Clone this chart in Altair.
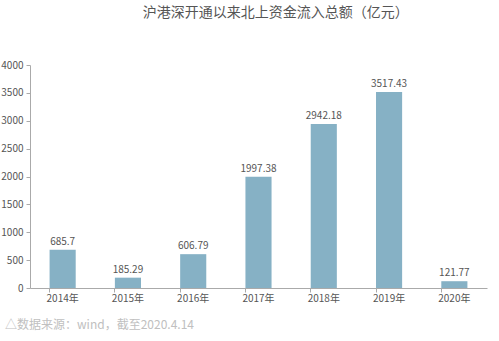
import altair as alt
import pandas as pd

years = ["2014年", "2015年", "2016年", "2017年", "2018年", "2019年", "2020年"]
values = [685.7, 185.29, 606.79, 1997.38, 2942.18, 3517.43, 121.77]
labels = ["685.7", "185.29", "606.79", "1997.38", "2942.18", "3517.43", "121.77"]
y_ticks = [0, 500, 1000, 1500, 2000, 2500, 3000, 3500, 4000]

df = pd.DataFrame({"year": years, "value": values, "label": labels})

FONT = "Noto Sans CJK SC"
GRAY = "#555555"
AX = "#aaaaaa"

xscale = alt.Scale(domain=years, paddingInner=0.6, paddingOuter=0.3)
yscale = alt.Scale(domain=[0, 4000], nice=False)
yaxis = alt.Axis(values=y_ticks, format="d", grid=False, domainColor=AX,
                 tickColor=AX, tickSize=4, labelColor=GRAY, labelFontSize=10,
                 labelFont=FONT, labelPadding=3)

base = alt.Chart(df)

bars = base.mark_bar(color="#86b1c5").encode(
    x=alt.X("year:N", scale=xscale, sort=years, title=None,
            axis=alt.Axis(orient="bottom", labelAngle=0, ticks=False, domainColor=AX,
                          labelColor=GRAY, labelFontSize=10, labelFont=FONT,
                          labelPadding=5)),
    y=alt.Y("value:Q", scale=yscale, title=None, axis=yaxis),
)

text = base.mark_text(dy=-8, fontSize=10, color=GRAY, font=FONT).encode(
    x=alt.X("year:N", scale=xscale, sort=years, axis=None),
    y=alt.Y("value:Q", scale=yscale, title=None, axis=yaxis),
    text="label:N",
)

ticks = base.mark_bar(opacity=0).encode(
    x=alt.X("year:N", scale=xscale, sort=years, title=None,
            axis=alt.Axis(orient="bottom", labels=False, domain=False, ticks=True,
                          tickColor=AX, tickSize=4, bandPosition=0)),
    y=alt.Y("value:Q", scale=yscale, title=None, axis=yaxis),
)

footer = alt.Chart(pd.DataFrame({"t": ["△数据来源：wind，截至2020.4.14"]})).mark_text(
    align="left", baseline="middle", fontSize=12, color="#c0c0c0", font=FONT
).encode(x=alt.value(-25), y=alt.value(260), text="t:N")

chart = alt.layer(bars, text, ticks, footer).resolve_axis(x="independent").properties(
    width=457,
    height=223,
    title=alt.TitleParams("沪港深开通以来北上资金流入总额（亿元）", anchor="start",
                          dx=142, fontSize=14, fontWeight="normal", color=GRAY,
                          font=FONT, offset=40),
    autosize=alt.AutoSizeParams(type="none"),
    padding={"left": 30, "top": 65, "right": 12, "bottom": 53},
).configure_view(stroke=None)

chart.save("out.html", embed_options={"renderer": "svg", "actions": False})
